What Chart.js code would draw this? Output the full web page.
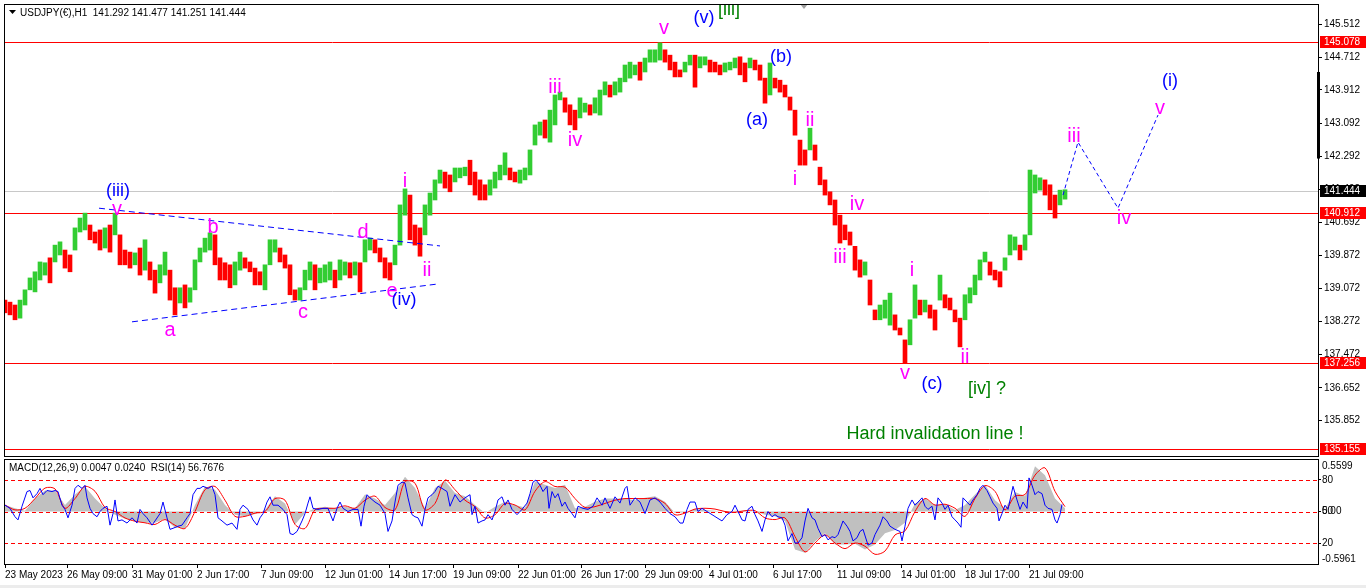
<!DOCTYPE html>
<html>
<head>
<meta charset="utf-8">
<title>USDJPY H1</title>
<script src="https://cdn.jsdelivr.net/npm/chart.js@4.4.0/dist/chart.umd.min.js"></script>
<style>
  html, body { margin: 0; padding: 0; background: #fff; width: 1366px; height: 588px; overflow: hidden; }
  #wrap { position: relative; width: 1366px; height: 588px; }
  #main { position: absolute; left: 0; top: 0; width: 1366px; height: 458px; }
  #sub  { position: absolute; left: 0; top: 458px; width: 1366px; height: 130px; }
</style>
</head>
<body>
<div id="wrap">
  <div id="main"><canvas id="priceChart"></canvas></div>
  <div id="sub"><canvas id="indChart"></canvas></div>
</div>
<script>
// ── data ─────────────────────────────────────────
// hourly bars, x = bar number from the left edge; one candle here = 5 bars
const candleFirstBar = 5;
const candleStep = 5;

const candleHigh = [
  138.79,138.74,138.67,138.79,139.04,139.33,139.48,139.72,139.70,139.82,
  140.13,140.21,140.01,139.89,140.55,140.79,140.91,140.62,140.45,140.50,
  140.55,140.62,140.91,140.38,140.01,139.96,139.94,140.06,140.26,139.72,
  139.52,139.65,139.96,139.52,139.09,139.09,139.16,139.09,139.77,140.06,
  140.30,140.43,140.38,139.82,139.70,139.65,139.72,139.96,139.82,139.72,
  139.57,139.48,139.65,140.26,140.26,140.06,139.89,139.65,139.04,139.09,
  139.52,139.72,139.65,139.57,139.65,139.72,139.52,139.77,139.72,139.70,
  139.72,139.70,140.26,140.30,140.26,140.06,139.82,139.70,140.13,141.11,
  141.50,141.35,140.62,140.55,141.11,141.40,141.72,141.96,141.91,141.84,
  142.01,142.01,142.03,142.20,141.91,141.72,141.60,141.72,141.91,142.08,
  142.38,142.01,141.91,141.96,142.01,142.45,143.06,143.13,143.18,143.42,
  143.79,143.86,143.72,143.55,143.42,143.72,143.59,143.55,143.72,143.91,
  144.11,144.03,144.11,144.20,144.52,144.59,144.52,144.59,144.69,144.89,
  144.89,145.06,144.89,144.76,144.59,144.40,144.59,144.76,144.76,144.72,
  144.72,144.64,144.59,144.52,144.57,144.59,144.69,144.72,144.57,144.69,
  144.64,144.52,144.20,144.57,144.20,144.15,144.03,143.74,143.42,142.69,
  142.45,142.98,142.57,142.03,141.72,141.43,141.23,140.86,140.62,140.45,
  140.10,139.77,139.72,139.28,138.55,138.67,138.79,138.96,138.43,138.11,
  137.82,138.31,139.16,138.79,138.79,138.67,138.55,139.40,138.92,138.84,
  138.55,138.35,138.92,139.09,139.40,139.77,139.96,139.72,139.52,139.48,
  139.82,140.38,140.33,140.13,140.38,141.96,141.84,141.77,141.72,141.60,
  141.35,141.47,141.48
];
const candleLow = [
  138.48,138.43,138.31,138.35,138.67,139.04,138.99,139.28,139.40,139.21,
  139.72,139.89,139.57,139.48,140.01,140.45,140.50,140.26,140.18,140.01,
  140.06,139.96,140.38,139.65,139.65,139.57,139.65,139.40,139.52,139.28,
  138.96,139.21,139.40,138.79,138.43,138.72,138.60,138.74,139.04,139.72,
  139.96,140.01,139.65,139.28,139.28,139.09,139.16,139.52,139.57,139.48,
  139.16,139.16,139.04,139.65,139.96,139.72,139.57,138.92,138.79,138.79,
  139.04,139.28,139.04,139.21,139.23,139.28,139.09,139.28,139.40,139.33,
  139.40,138.99,139.72,140.01,139.94,139.72,139.33,139.28,139.65,140.13,
  140.86,140.26,140.13,139.86,140.38,140.86,141.23,141.64,141.52,141.43,
  141.67,141.77,141.82,141.60,141.35,141.23,141.23,141.35,141.52,141.72,
  141.84,141.72,141.67,141.64,141.72,141.84,142.57,142.81,142.74,142.64,
  143.06,143.67,143.37,143.06,142.94,143.23,143.37,143.30,143.35,143.30,
  143.79,143.74,143.79,143.86,144.11,144.20,144.28,144.15,144.35,144.59,
  144.59,144.64,144.59,144.40,144.23,144.23,144.35,144.52,143.98,144.45,
  144.52,144.35,144.35,144.28,144.35,144.40,144.45,144.28,144.11,144.45,
  144.40,144.15,143.59,143.79,143.96,143.86,143.74,143.42,142.81,142.08,
  142.08,142.45,142.20,141.60,141.35,141.11,140.62,140.18,140.26,140.13,
  139.52,139.35,139.40,138.67,138.31,138.31,138.35,138.18,138.06,137.94,
  137.26,137.70,138.35,138.43,138.50,138.35,138.06,138.79,138.60,138.55,
  138.26,137.65,138.31,138.72,138.92,139.28,139.72,139.40,139.28,139.11,
  139.52,139.89,140.01,139.77,140.01,140.38,141.40,141.47,141.35,140.99,
  140.79,141.11,141.25
];

const priceTicks = [145.512, 144.712, 143.912, 143.092, 142.292, 141.492, 140.692,
                    139.872, 139.072, 138.272, 137.472, 136.652, 135.852];
const redLevels = [145.078, 140.912, 137.256, 135.155];
const lastPrice = 141.444;

// triangle lines and projected path (bar, price)
const upperLineBar = [99, 440];
const upperLinePrice = [141.03, 140.11];
const lowerLineBar = [132, 437];
const lowerLinePrice = [138.26, 139.18];
const projBar = [1063, 1078, 1118, 1158];
const projPrice = [141.35, 142.64, 141.03, 143.30];

// wave labels
const waveText = ['(iii)','v','b','a','c','d','e','(iv)','i','ii',
                  'iii','iv','v','(v)','[iii]','(b)','(a)','i','ii','iv',
                  'iii','v','(c)','i','ii','[iv] ?','Hard invalidation line !','iii','iv','v','(i)'];
const waveBar = [118,117,213,170,303,363,392,404,405,427,
                 555,575,664,704,729,781,757,795,810,857,
                 840,905,932,912,965,987,935,1074,1124,1160,1170];
const wavePrice = [141.45,140.99,140.55,138.06,138.48,140.45,139.01,138.79,141.69,139.50,
                   143.98,142.67,145.40,145.67,145.86,144.71,143.18,141.74,143.18,141.11,
                   139.84,136.99,136.75,139.52,137.38,136.62,135.53,142.79,140.77,143.45,144.13];
const waveDegree = ['int','min','min','min','min','min','min','int','min','min',
                    'min','min','min','int','pri','int','int','min','min','min',
                    'min','min','int','min','min','pri','pri','min','min','min','int'];

// indicator window
const macdFirstBar = 5;
const macdStep = 10;
const macdMain = [
  0.08,0.04,0.01,0.16,0.26,0.26,0.08,0.21,0.31,0.16,
  0.04,-0.04,-0.09,-0.12,-0.14,-0.14,-0.09,-0.20,-0.21,0.08,
  0.31,0.27,0.08,-0.04,-0.06,-0.03,0.02,0.19,0.10,-0.16,
  -0.02,0.04,0.06,0.04,0.06,0.04,0.21,0.16,0.08,0.23,
  0.43,0.29,0.04,0.29,0.38,0.23,0.19,0.08,-0.02,0.06,
  0.12,0.08,0.05,0.37,0.33,0.29,0.33,0.04,0.06,0.12,
  0.16,0.16,0.16,0.14,0.17,0.19,0.12,-0.02,-0.01,0.03,
  0.02,0.01,-0.01,0.01,0.01,0.00,-0.04,-0.06,-0.12,-0.47,
  -0.51,-0.37,-0.27,-0.41,-0.41,-0.40,-0.47,-0.41,-0.27,-0.23,
  -0.14,0.10,0.16,0.08,0.09,0.02,0.08,0.21,0.33,0.14,
  0.04,0.24,0.19,0.56,0.45,0.16,0.04
];
const macdSignal = [
  0.08,0.02,0.04,0.16,0.29,0.28,0.04,0.16,0.31,0.25,
  0.05,0.00,-0.08,-0.12,-0.14,-0.16,-0.10,-0.17,-0.21,0.00,
  0.27,0.31,0.14,-0.06,-0.06,-0.02,0.00,0.16,0.14,-0.16,
  -0.21,0.02,0.04,0.04,0.07,0.04,0.14,0.19,0.05,0.02,
  0.37,0.35,0.02,0.10,0.39,0.27,0.14,0.06,-0.08,-0.04,
  0.10,0.08,0.02,0.25,0.37,0.31,0.30,0.16,0.05,0.06,
  0.10,0.14,0.16,0.16,0.16,0.16,0.10,-0.04,-0.02,0.03,
  0.04,0.03,0.00,-0.01,0.01,0.01,-0.08,-0.10,-0.08,-0.31,
  -0.50,-0.39,-0.29,-0.39,-0.46,-0.39,-0.43,-0.53,-0.49,-0.29,
  -0.24,0.00,0.16,0.08,0.09,0.04,-0.06,0.16,0.32,0.25,
  0.02,0.19,0.21,0.45,0.54,0.25,0.06
];

const rsiBar = [
  5,10,15,18,22,27,30,33,37,40,43,47,52,55,58,62,65,68,72,75,78,82,85,87,90,93,97,100,103,107,
  110,113,115,118,122,127,132,137,140,143,147,152,155,160,163,167,170,173,178,182,187,190,193,197,200,
  203,208,212,215,218,222,227,232,237,240,243,248,253,257,260,263,267,270,273,278,283,287,290,293,297,
  302,305,308,310,313,318,323,328,333,337,340,343,348,353,358,361,364,367,370,375,380,385,388,392,395,
  398,402,405,408,412,415,418,422,425,428,432,435,438,442,447,450,455,460,465,470,472,475,478,482,485,
  488,492,495,498,502,505,508,512,517,522,527,530,533,536,540,543,547,549,552,555,558,562,565,568,572,
  575,578,583,588,593,597,602,605,610,615,620,625,627,630,635,640,645,650,655,660,665,670,675,680,683,
  687,690,695,698,702,707,712,717,722,727,732,735,738,742,745,748,752,755,758,762,765,768,772,775,778,
  782,785,788,792,795,798,802,805,808,812,815,818,822,825,828,832,835,838,843,847,850,853,857,860,863,
  868,872,875,880,883,887,890,895,900,902,905,908,912,915,918,922,925,928,932,935,938,942,945,948,952,
  955,958,961,963,967,970,973,977,980,983,987,990,993,997,999,1002,1005,1008,1013,1017,1020,1023,1027,1029,1032,
  1035,1038,1042,1045,1048,1052,1055,1057,1060,1062
];
const rsiValue = [
  56,53,45,42,55,69,70,63,67,72,66,70,69,70,69,56,52,44,56,72,75,72,75,63,53,48,45,50,53,55,
  37,48,61,41,42,39,44,39,52,48,44,37,41,48,59,44,33,34,36,37,44,48,66,72,72,
  74,72,74,66,44,41,37,39,33,52,56,52,42,37,44,48,59,64,56,56,52,47,29,28,31,
  41,48,58,64,53,52,53,53,41,53,59,53,50,52,52,36,55,66,63,59,56,48,31,41,59,
  75,78,77,63,47,45,44,36,52,63,66,69,74,72,69,55,66,59,63,66,47,55,39,41,42,
  47,42,50,61,64,56,61,52,47,52,58,67,78,80,75,69,74,53,69,63,67,55,59,53,48,
  44,55,53,52,55,63,56,63,53,64,58,72,74,56,63,59,48,61,63,59,53,48,45,39,39,
  52,59,59,50,53,50,47,44,41,47,50,56,50,42,41,52,55,47,41,31,42,50,45,47,45,
  44,37,22,29,20,20,25,41,53,44,42,34,26,28,23,26,25,28,41,36,31,22,25,31,33,
  18,20,28,37,45,41,36,33,31,22,36,53,61,56,59,63,55,52,55,42,63,58,52,56,45,
  42,39,35,63,59,56,61,66,72,75,70,64,58,53,41,48,56,52,74,61,52,59,53,82,75,
  66,69,67,56,53,52,42,39,47,56.77
];
const rsiLevels = [80, 50, 20];
const macdScaleValues = [0.5599, 0, -0.5961];
const macdScaleText = ['0.5599', '0.00', '-0.5961'];

const timeTickBar = [5, 67, 132, 197, 261, 325, 389, 453, 518, 581, 645, 709, 773, 837, 901, 965, 1029];
const timeTickLabel = ['23 May 2023', '26 May 09:00', '31 May 01:00', '2 Jun 17:00', '7 Jun 09:00',
                       '12 Jun 01:00', '14 Jun 17:00', '19 Jun 09:00', '22 Jun 01:00', '26 Jun 17:00',
                       '29 Jun 09:00', '4 Jul 01:00', '6 Jul 17:00', '11 Jul 09:00', '14 Jul 01:00',
                       '18 Jul 17:00', '21 Jul 09:00'];

const mainHeader = 'USDJPY(€),H1  141.292 141.477 141.251 141.444';
const subHeader = 'MACD(12,26,9) 0.0047 0.0240  RSI(14) 56.7676';

// ── look ─────────────────────────────────────────
const X_MIN = 4, X_MAX = 1318;
const UP = '#32cd32', DOWN = '#ff0000';
const FONT = '"Liberation Sans", Arial, sans-serif';
const waveStyle = {
  min: { color: '#ff00ff', font: '20px ' + FONT },
  int: { color: '#0000ff', font: '18px ' + FONT },
  pri: { color: '#008000', font: '18px ' + FONT },
};

Chart.defaults.font.family = FONT;
Chart.defaults.font.size = 10;
Chart.defaults.color = '#000';

function pts(xs, ys) {
  return xs.map((x, i) => ({ x: x, y: ys[i] }));
}

// keep the axes from asking for extra room for half labels
function noEdgePad(s) {
  s.paddingTop = 0; s.paddingBottom = 0; s.paddingLeft = 0; s.paddingRight = 0;
}

// crisp 1px horizontal line at a scale value
function levelLine(ctx, area, scale, value, color, dash) {
  const py = Math.round(scale.getPixelForValue(value)) + 0.5;
  ctx.save();
  ctx.strokeStyle = color;
  ctx.lineWidth = 1;
  ctx.setLineDash(dash || []);
  ctx.beginPath();
  ctx.moveTo(area.left, py);
  ctx.lineTo(area.right, py);
  ctx.stroke();
  ctx.restore();
}

// ── price window ────────────────────────────────
const candleBar = candleHigh.map((_, i) => candleFirstBar + i * candleStep);
const candleColor = candleHigh.map((h, i) => {
  if (i === 0) return DOWN;
  const mid = (h + candleLow[i]) / 2;
  const prev = (candleHigh[i - 1] + candleLow[i - 1]) / 2;
  return mid >= prev ? UP : DOWN;
});

const mainDecor = {
  id: 'mainDecor',
  beforeDatasetsDraw(chart) {
    const { ctx, chartArea: a, scales } = chart;
    levelLine(ctx, a, scales.y, lastPrice, '#c8c8c8');
    redLevels.forEach(v => levelLine(ctx, a, scales.y, v, '#ff0000'));
  },
  afterDraw(chart) {
    const { ctx, chartArea: a, scales } = chart;
    const xs = scales.x, ys = scales.y;

    ctx.save();
    ctx.beginPath();
    ctx.rect(a.left, a.top, a.right - a.left, a.bottom - a.top);
    ctx.clip();
    ctx.textAlign = 'center';
    ctx.textBaseline = 'middle';
    waveText.forEach((t, i) => {
      const st = waveStyle[waveDegree[i]];
      ctx.font = st.font;
      ctx.fillStyle = st.color;
      ctx.fillText(t, xs.getPixelForValue(waveBar[i]), ys.getPixelForValue(wavePrice[i]));
    });
    // chart shift marker
    const sx = xs.getPixelForValue(804);
    ctx.fillStyle = '#a0a0a0';
    ctx.beginPath();
    ctx.moveTo(sx - 4, a.top);
    ctx.lineTo(sx + 4, a.top);
    ctx.lineTo(sx, a.top + 5);
    ctx.fill();
    ctx.restore();

    // frame
    ctx.save();
    ctx.strokeStyle = '#000';
    ctx.lineWidth = 1;
    ctx.strokeRect(a.left + 0.5, a.top + 0.5, a.right - a.left, a.bottom - a.top);
    ctx.fillStyle = '#000';
    ctx.fillRect(a.right - 1, ys.getPixelForValue(144.35), 3, ys.getPixelForValue(142.24) - ys.getPixelForValue(144.35));

    // header
    ctx.beginPath();
    ctx.moveTo(9, 10); ctx.lineTo(16, 10); ctx.lineTo(12.5, 14);
    ctx.fill();
    ctx.font = '10px ' + FONT;
    ctx.textAlign = 'left';
    ctx.textBaseline = 'middle';
    ctx.fillText(mainHeader, 20, 13);

    // price boxes on the axis
    const boxes = redLevels.map(v => [v, '#ff0000']).concat([[lastPrice, '#000000']]);
    boxes.forEach(([v, c]) => {
      const py = Math.round(ys.getPixelForValue(v));
      ctx.fillStyle = c;
      ctx.fillRect(a.right + 2, py - 6, 46, 12);
      ctx.fillStyle = '#fff';
      ctx.fillText(v.toFixed(3), a.right + 6, py + 0.5);
    });
    ctx.restore();
  }
};

new Chart(document.getElementById('priceChart'), {
  type: 'bar',
  data: {
    datasets: [
      {
        type: 'bar',
        data: candleBar.map((b, i) => ({ x: b, y: [candleLow[i], candleHigh[i]] })),
        backgroundColor: candleColor,
        borderWidth: 0,
        barThickness: 4,
        order: 1,
      },
      {
        type: 'line', data: pts(upperLineBar, upperLinePrice),
        borderColor: '#0000ff', borderWidth: 1, borderDash: [6, 4], pointRadius: 0, order: 0,
      },
      {
        type: 'line', data: pts(lowerLineBar, lowerLinePrice),
        borderColor: '#0000ff', borderWidth: 1, borderDash: [6, 4], pointRadius: 0, order: 0,
      },
      {
        type: 'line', data: pts(projBar, projPrice),
        borderColor: '#0000ff', borderWidth: 1, borderDash: [4, 3], pointRadius: 0, order: 0,
      },
    ],
  },
  options: {
    responsive: true,
    maintainAspectRatio: false,
    animation: false,
    layout: { autoPadding: false, padding: { left: 4, top: 4, bottom: 2, right: 0 } },
    plugins: { legend: { display: false }, tooltip: { enabled: false } },
    scales: {
      x: { type: 'linear', min: X_MIN, max: X_MAX, offset: false, display: false },
      y: {
        axis: 'y', position: 'right', min: 134.99, max: 146.007,
        afterBuildTicks: s => { s.ticks = priceTicks.map(v => ({ value: v })); },
        afterFit: s => { s.width = 48; noEdgePad(s); },
        ticks: { autoSkip: false, padding: 2, callback: v => v.toFixed(3), color: '#000' },
        grid: { drawOnChartArea: false, drawTicks: true, tickLength: 4, color: '#000' },
        border: { display: true, color: '#000' },
      },
    },
  },
  plugins: [mainDecor],
});

// ── MACD / RSI window ────────────────────────────
const macdBar = macdMain.map((_, i) => macdFirstBar + i * macdStep);

const subDecor = {
  id: 'subDecor',
  afterDatasetDraw(chart, args) {
    // dashed RSI levels sit right above the MACD histogram
    if (args.index !== 0) return;
    rsiLevels.forEach(v => levelLine(chart.ctx, chart.chartArea, chart.scales.rsi, v, '#ff0000', [4, 3]));
  },
  afterDraw(chart) {
    const { ctx, chartArea: a, scales } = chart;
    const ms = scales.macd;
    ctx.save();
    ctx.strokeStyle = '#000';
    ctx.lineWidth = 1;
    ctx.strokeRect(a.left + 0.5, a.top + 0.5, a.right - a.left, a.bottom - a.top);
    ctx.fillStyle = '#000';
    ctx.font = '10px ' + FONT;
    ctx.textAlign = 'left';
    ctx.textBaseline = 'middle';
    ctx.fillText(subHeader, 9, 10);
    macdScaleValues.forEach((v, i) => {
      ctx.fillText(macdScaleText[i], a.right + 4, ms.getPixelForValue(v));
    });
    ctx.fillStyle = '#ececec';
    ctx.fillRect(0, chart.height - 3, chart.width, 3);
    ctx.restore();
  }
};

new Chart(document.getElementById('indChart'), {
  type: 'line',
  data: {
    datasets: [
      {
        data: pts(macdBar, macdMain), yAxisID: 'macd',
        fill: 'origin', backgroundColor: '#c0c0c0', borderWidth: 0, pointRadius: 0, order: 5,
      },
      {
        data: pts(macdBar, macdSignal), yAxisID: 'macd',
        borderColor: '#ff0000', borderWidth: 1, pointRadius: 0, tension: 0.3, order: 2,
      },
      {
        data: pts(rsiBar, rsiValue), yAxisID: 'rsi',
        borderColor: '#0000ff', borderWidth: 1, pointRadius: 0, order: 1,
      },
    ],
  },
  options: {
    responsive: true,
    maintainAspectRatio: false,
    animation: false,
    layout: { autoPadding: false, padding: { left: 4, top: 1, bottom: 0, right: 0 } },
    plugins: { legend: { display: false }, tooltip: { enabled: false } },
    scales: {
      x: {
        axis: 'x', type: 'linear', min: X_MIN, max: X_MAX, offset: false, position: 'bottom',
        afterBuildTicks: s => { s.ticks = timeTickBar.map(v => ({ value: v })); },
        afterFit: s => { s.height = 24; noEdgePad(s); },
        ticks: {
          autoSkip: false, maxRotation: 0, align: 'start', padding: 1, color: '#000',
          callback: (v, i) => timeTickLabel[i],
        },
        grid: { drawOnChartArea: false, drawTicks: true, tickLength: 4, color: '#000' },
        border: { display: true, color: '#000' },
      },
      rsi: {
        axis: 'y', type: 'linear', position: 'right', min: 0, max: 100,
        afterBuildTicks: s => { s.ticks = rsiLevels.map(v => ({ value: v })); },
        afterFit: s => { s.width = 48; noEdgePad(s); },
        ticks: { autoSkip: false, padding: 1, color: '#000' },
        grid: { drawOnChartArea: false, drawTicks: true, tickLength: 3, color: '#000' },
        border: { display: true, color: '#000' },
      },
      macd: { axis: 'y', type: 'linear', display: false, min: -0.65, max: 0.65 },
    },
  },
  plugins: [subDecor],
});
</script>
</body>
</html>
